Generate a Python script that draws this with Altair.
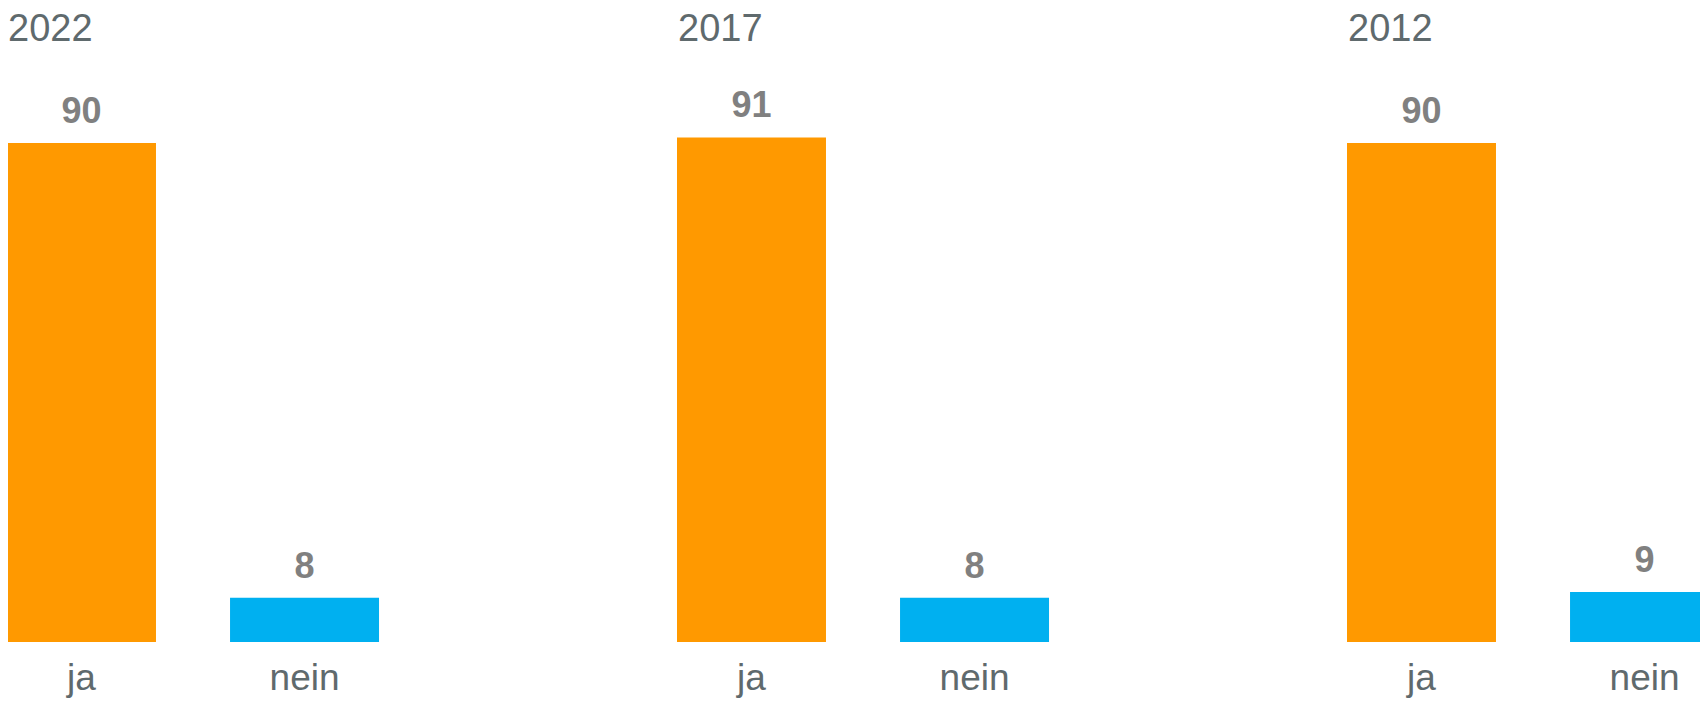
import altair as alt
import pandas as pd

years = ["2022", "2017", "2012"]
answers = ["ja", "nein"]
ja_values = [90, 91, 90]
nein_values = [8, 8, 9]
bar_colors = ["#FF9900", "#00B0F0"]

rows = []
for i, yr in enumerate(years):
    rows.append({"year": yr, "answer": "ja", "value": ja_values[i]})
    rows.append({"year": yr, "answer": "nein", "value": nein_values[i]})
df = pd.DataFrame(rows)
year_df = pd.DataFrame({"year": years})

W, H = 1692, 690
base_y = 634.0
ppu = 5.545
ymin = -(H - base_y) / ppu
ymax = base_y / ppu

xscale = alt.Scale(domain=years, range=[-1, 2009], paddingInner=0, paddingOuter=0)
xoff_scale = alt.Scale(domain=answers, paddingInner=0.332, paddingOuter=0.668, align=0)
yscale = alt.Scale(domain=[ymin, ymax], nice=False, zero=False)

X = alt.X("year:N", scale=xscale, axis=None, sort=years)
XO = alt.XOffset("answer:N", scale=xoff_scale, sort=answers)

base = alt.Chart(df)

bars = base.mark_bar().encode(
    x=X,
    xOffset=XO,
    y=alt.Y("value:Q", scale=yscale, axis=None),
    y2=alt.datum(0),
    color=alt.Color("answer:N", scale=alt.Scale(domain=answers, range=bar_colors), legend=None),
)

value_text = base.mark_text(
    font="Liberation Sans", fontSize=36, fontWeight="bold", color="#808080",
    baseline="alphabetic", dy=-20,
).encode(
    x=X, xOffset=XO,
    y=alt.Y("value:Q", scale=yscale, axis=None),
    text=alt.Text("value:Q"),
)

cat_text = base.mark_text(
    font="Liberation Sans", fontSize=37, color="#5f6a6d",
    baseline="alphabetic", dy=48,
).encode(
    x=X, xOffset=XO,
    y=alt.datum(0),
    text=alt.Text("answer:N"),
)

year_text = alt.Chart(year_df).mark_text(
    font="Liberation Sans", fontSize=38, color="#5f6a6d",
    align="left", baseline="alphabetic", dy=33, dx=1,
).encode(
    x=alt.X("year:N", scale=xscale, axis=None, sort=years, bandPosition=0),
    y=alt.datum(ymax),
    text=alt.Text("year:N"),
)

chart = alt.layer(bars, value_text, cat_text, year_text).properties(
    width=W, height=H, autosize=alt.AutoSizeParams(type="none"), padding=0
).configure_view(stroke=None)

chart.save("out.html", embed_options={"renderer": "svg", "actions": False})
